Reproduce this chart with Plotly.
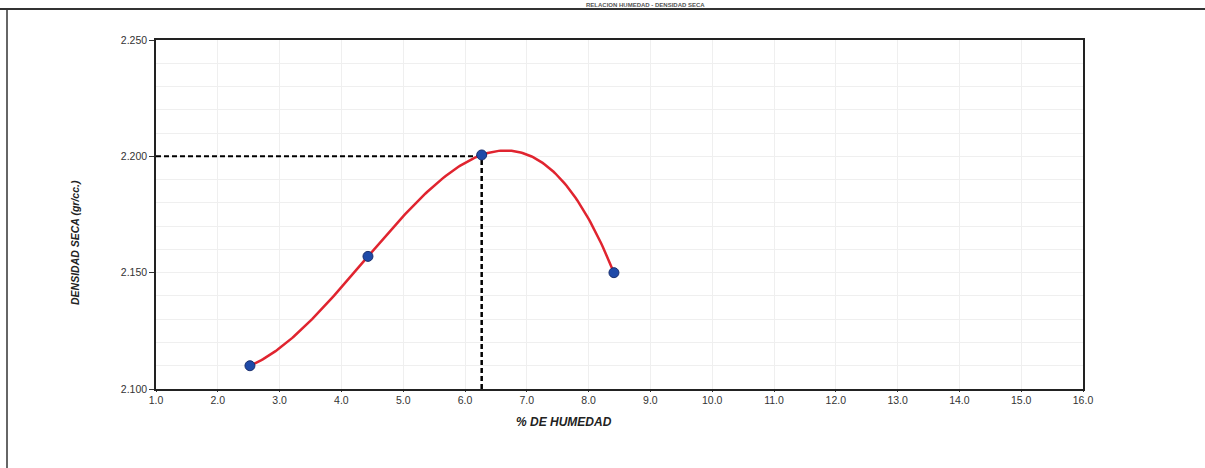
import numpy as np
import plotly.graph_objects as go

# --- data ---
humedad = [2.52, 4.43, 6.27, 8.41]          # % de humedad
densidad = [2.110, 2.157, 2.2006, 2.150]    # densidad seca (gr/cc)
omc = 6.27                                   # óptimo contenido de humedad
mdd = 2.200                                  # máxima densidad seca
x_ticks = [1.0, 2.0, 3.0, 4.0, 5.0, 6.0, 7.0, 8.0, 9.0, 10.0, 11.0, 12.0, 13.0, 14.0, 15.0, 16.0]
y_ticks = [2.100, 2.150, 2.200, 2.250]

# cubic trendline through the measured points (as in the original sheet)
coef = np.polyfit(humedad, densidad, 3)
xs = np.linspace(min(humedad), max(humedad), 200)
ys = np.polyval(coef, xs)

W, H = 1205, 468
L, R, T, B = 156, 122, 40, 79
PW, PH = W - L - R, H - T - B


def px(x):
    return (x - L) / PW


def py(y):
    return (H - B - y) / PH


fig = go.Figure()

# dashed guide lines to the optimum
fig.add_trace(go.Scatter(x=[x_ticks[0], omc], y=[mdd, mdd], mode="lines",
                         line=dict(color="black", width=2, dash="5px,3px"),
                         hoverinfo="skip", showlegend=False))
fig.add_trace(go.Scatter(x=[omc, omc], y=[y_ticks[0], mdd], mode="lines",
                         line=dict(color="black", width=2.5, dash="5px,3px"),
                         hoverinfo="skip", showlegend=False))

# trendline
fig.add_trace(go.Scatter(x=xs, y=ys, mode="lines",
                         line=dict(color="#e0242f", width=2.5),
                         showlegend=False))
# points
fig.add_trace(go.Scatter(x=humedad, y=densidad, mode="markers",
                         marker=dict(color="#1f4aa8", size=10,
                                     line=dict(color="#1a2f6e", width=1)),
                         showlegend=False))

axis_common = dict(showline=True, linecolor="#222", linewidth=1.5, mirror=True,
                   tickcolor="#333",
                   tickfont=dict(family="Arial, Liberation Sans", size=10.5, color="#333"),
                   zeroline=False)

fig.update_xaxes(range=[x_ticks[0], x_ticks[-1]], tickvals=x_ticks,
                 ticktext=[f"{v:.1f}" for v in x_ticks],
                 ticks="outside", ticklen=1,
                 showgrid=True, gridcolor="#efefef", gridwidth=1,
                 **axis_common)
fig.update_yaxes(range=[y_ticks[0], y_ticks[-1]], tickvals=y_ticks,
                 ticktext=[f"{v:.3f}" for v in y_ticks],
                 ticks="outside", ticklen=5,
                 showgrid=False,
                 minor=dict(dtick=0.01, showgrid=True, gridcolor="#efefef", gridwidth=1),
                 **axis_common)

fig.update_layout(
    width=W, height=H,
    margin=dict(l=L, r=R, t=T, b=B),
    paper_bgcolor="white", plot_bgcolor="white",
    annotations=[
        dict(text="<b><i>% DE HUMEDAD</i></b>", xref="paper", yref="paper",
             x=px(564), y=py(422), xanchor="center", yanchor="middle",
             showarrow=False, font=dict(family="Arial, Liberation Sans", size=12, color="#222")),
        dict(text="<b><i>DENSIDAD SECA (gr/cc.)</i></b>", xref="paper", yref="paper",
             x=px(75), y=py(243), xanchor="center", yanchor="middle",
             textangle=-90, showarrow=False,
             font=dict(family="Arial, Liberation Sans", size=10.5, color="#222")),
        dict(text="<b>RELACION HUMEDAD - DENSIDAD SECA</b>", xref="paper", yref="paper",
             x=px(645), y=py(4.5), xanchor="center", yanchor="middle",
             showarrow=False, font=dict(family="Arial, Liberation Sans", size=6, color="#555")),
    ],
    shapes=[
        dict(type="line", xref="paper", yref="paper",
             x0=px(0), x1=px(W), y0=py(9), y1=py(9),
             line=dict(color="#333", width=2)),
        dict(type="line", xref="paper", yref="paper",
             x0=px(7), x1=px(7), y0=py(9), y1=py(H),
             line=dict(color="#333", width=1.5)),
    ],
)

fig.write_html("out.html", config={"displayModeBar": False},
               post_script="document.body.style.margin='0px';")
